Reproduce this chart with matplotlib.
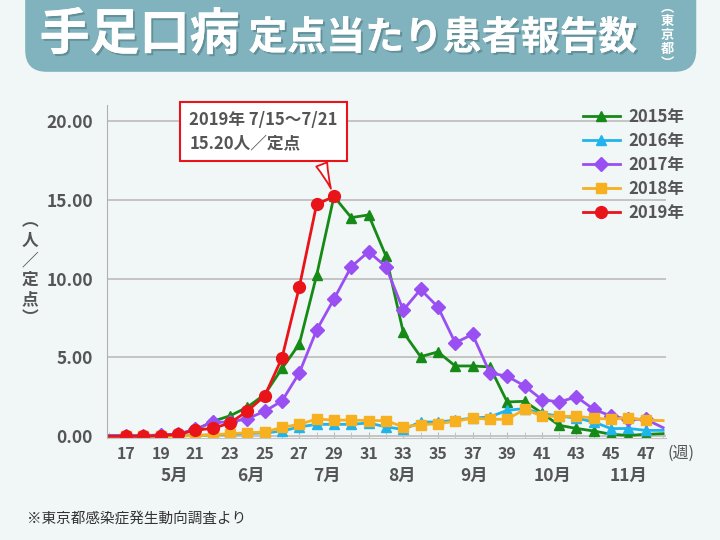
import matplotlib

matplotlib.use("Agg")
import matplotlib.pyplot as plt
import matplotlib.patheffects as pe
from matplotlib.patches import FancyBboxPatch
from matplotlib.ticker import MultipleLocator

plt.rcParams["font.family"] = ["Noto Sans CJK JP", "DejaVu Sans"]

# weekly values, weeks 16..48
weeks = list(range(16, 49))
y2015 = [0.05, 0.05, 0.05, 0.08, 0.15, 0.4, 0.95, 1.3, 1.85, 2.65, 4.3, 5.85, 10.2, 15.2,
         13.86, 14.03, 11.43, 6.6, 5.05, 5.35, 4.46, 4.46, 4.4, 2.18, 2.22, 1.48, 0.7,
         0.5, 0.34, 0.13, 0.06, 0.13, 0.17]
y2016 = [0.0, 0.0, 0.0, 0.02, 0.05, 0.05, 0.1, 0.12, 0.18, 0.22, 0.33, 0.6, 0.76, 0.76,
         0.76, 0.85, 0.6, 0.44, 0.91, 0.91, 1.02, 1.16, 1.23, 1.65, 1.76, 1.44, 1.29,
         1.16, 0.91, 0.49, 0.5, 0.38, 0.38]
y2017 = [0.05, 0.05, 0.05, 0.08, 0.15, 0.45, 0.9, 0.9, 1.12, 1.59, 2.24, 4.02, 6.73, 8.7,
         10.75, 11.7, 10.75, 8.0, 9.31, 8.2, 5.93, 6.46, 4.02, 3.81, 3.2, 2.33, 2.18,
         2.5, 1.71, 1.29, 1.08, 1.08, 0.55]
y2018 = [0.0, 0.0, 0.0, 0.0, 0.02, 0.05, 0.1, 0.17, 0.23, 0.27, 0.57, 0.76, 1.1, 1.03,
         1.03, 1.0, 1.0, 0.6, 0.74, 0.8, 0.95, 1.16, 1.08, 1.08, 1.71, 1.29, 1.27,
         1.27, 1.16, 1.08, 1.19, 1.02, 1.0]
weeks2019 = list(range(16, 30))
y2019 = [0.0, 0.0, 0.0, 0.05, 0.12, 0.4, 0.5, 0.85, 1.6, 2.56, 4.97, 9.46, 14.7, 15.2]

month_labels = ["5月", "6月", "7月", "8月", "9月", "10月", "11月"]
month_pos = [19.8, 24.2, 28.6, 32.9, 37.1, 41.6, 46.0]

series = [
    ("2015年", weeks, y2015, "#168a16", "^", 7.5),
    ("2016年", weeks, y2016, "#1fb4ec", "^", 7.5),
    ("2017年", weeks, y2017, "#9a4ff2", "D", 7.0),
    ("2018年", weeks, y2018, "#f7b020", "s", 7.0),
    ("2019年", weeks2019, y2019, "#e8141a", "o", 8.5),
]

BG = "#f1f6f7"
TXT = "#555555"

fig = plt.figure(figsize=(7.2, 5.4), dpi=100, facecolor=BG)
ax = fig.add_axes([0.1486, 0.189, 0.776, 0.6167])
ax.set_facecolor(BG)

for label, xs, ys, color, marker, ms in series:
    n = len(xs)
    ax.plot(xs, ys, color=color, linewidth=2, marker=marker, markersize=ms,
            markevery=list(range(1, min(n, 32))), label=label)

ax.set_xlim(15.9, 48.15)
ax.set_ylim(-0.1, 21)
ax.set_yticks([0, 5, 10, 15, 20])
ax.set_yticklabels(["0.00", "5.00", "10.00", "15.00", "20.00"])
ax.set_xticks(range(17, 48, 2))
ax.xaxis.set_minor_locator(MultipleLocator(1))
ax.grid(axis="y", color="#c4c4c4", linewidth=1.4)
ax.set_axisbelow(True)
for s in ["top", "right"]:
    ax.spines[s].set_visible(False)
ax.spines["left"].set_color("#b0b0b0")
ax.spines["bottom"].set_color("#c4c4c4")
ax.tick_params(axis="y", length=0, pad=10, labelsize=12.5, labelcolor=TXT)
ax.tick_params(axis="x", which="both", direction="in", length=4, color="#bbbbbb",
               pad=6, labelsize=11.5, labelcolor=TXT)
for t in ax.get_yticklabels() + ax.get_xticklabels():
    t.set_fontweight("bold")

tr = ax.get_xaxis_transform()
for m, x in zip(month_labels, month_pos):
    ax.text(x, -0.115, m, transform=tr, ha="center", va="center", fontsize=12.5,
            color=TXT, fontweight="bold", clip_on=False)
ax.text(49.05, -0.045, "(週)", transform=tr, ha="center", va="center", fontsize=11.5,
        color=TXT, clip_on=False)

leg = ax.legend(loc="upper left", bbox_to_anchor=(0.84, 1.01), frameon=False,
                fontsize=12, handlelength=2.2, labelspacing=0.35, borderaxespad=0,
                handletextpad=0.5)
for t in leg.get_texts():
    t.set_color(TXT)
    t.set_fontweight("bold")

ax.annotate("2019年 7/15～7/21\n15.20人／定点", xy=(29, 15.2), xycoords="data",
            xytext=(0.366, 0.7565), textcoords="figure fraction", ha="center",
            va="center", fontsize=12, color=TXT, fontweight="bold",
            multialignment="left", linespacing=1.35,
            bbox=dict(boxstyle="square,pad=0.55", fc="white", ec="#e8141a", lw=1.5),
            arrowprops=dict(arrowstyle="wedge,tail_width=0.7,shrink_factor=0.4",
                            fc="white", ec="#e8141a", lw=1.3, relpos=(0.86, 0.0),
                            shrinkB=6))

fig.text(0.042, 0.5, "︵\n人\n／\n定\n点\n︶", ha="center", va="center", fontsize=12,
         color=TXT, fontweight="bold", linespacing=1.1)

# header band
band = FancyBboxPatch((0.035, 0.867), 0.932, 0.2, boxstyle="round,pad=0,rounding_size=0.03",
                      transform=fig.transFigure, fc="#80b3bd", ec="none",
                      mutation_aspect=720 / 540)
fig.patches.append(band)

shadow = [pe.withSimplePatchShadow(offset=(1.5, -1.5), shadow_rgbFace="#4a6f76", alpha=0.5),
          pe.Normal()]
fig.text(0.055, 0.935, "手足口病", ha="left", va="center", fontsize=36, color="white",
         fontweight="bold", path_effects=shadow)
fig.text(0.345, 0.93, "定点当たり患者報告数", ha="left", va="center", fontsize=28,
         color="white", fontweight="bold", path_effects=shadow)
fig.text(0.927, 0.935, "︵\n東\n京\n都\n︶", ha="center", va="center", fontsize=9.5,
         color="white", fontweight="bold", linespacing=1.0)

fig.text(0.038, 0.037, "※東京都感染症発生動向調査より", ha="left", va="center", fontsize=10.5,
         color="#333333")

fig.savefig("out.png", dpi=100, facecolor=BG)
